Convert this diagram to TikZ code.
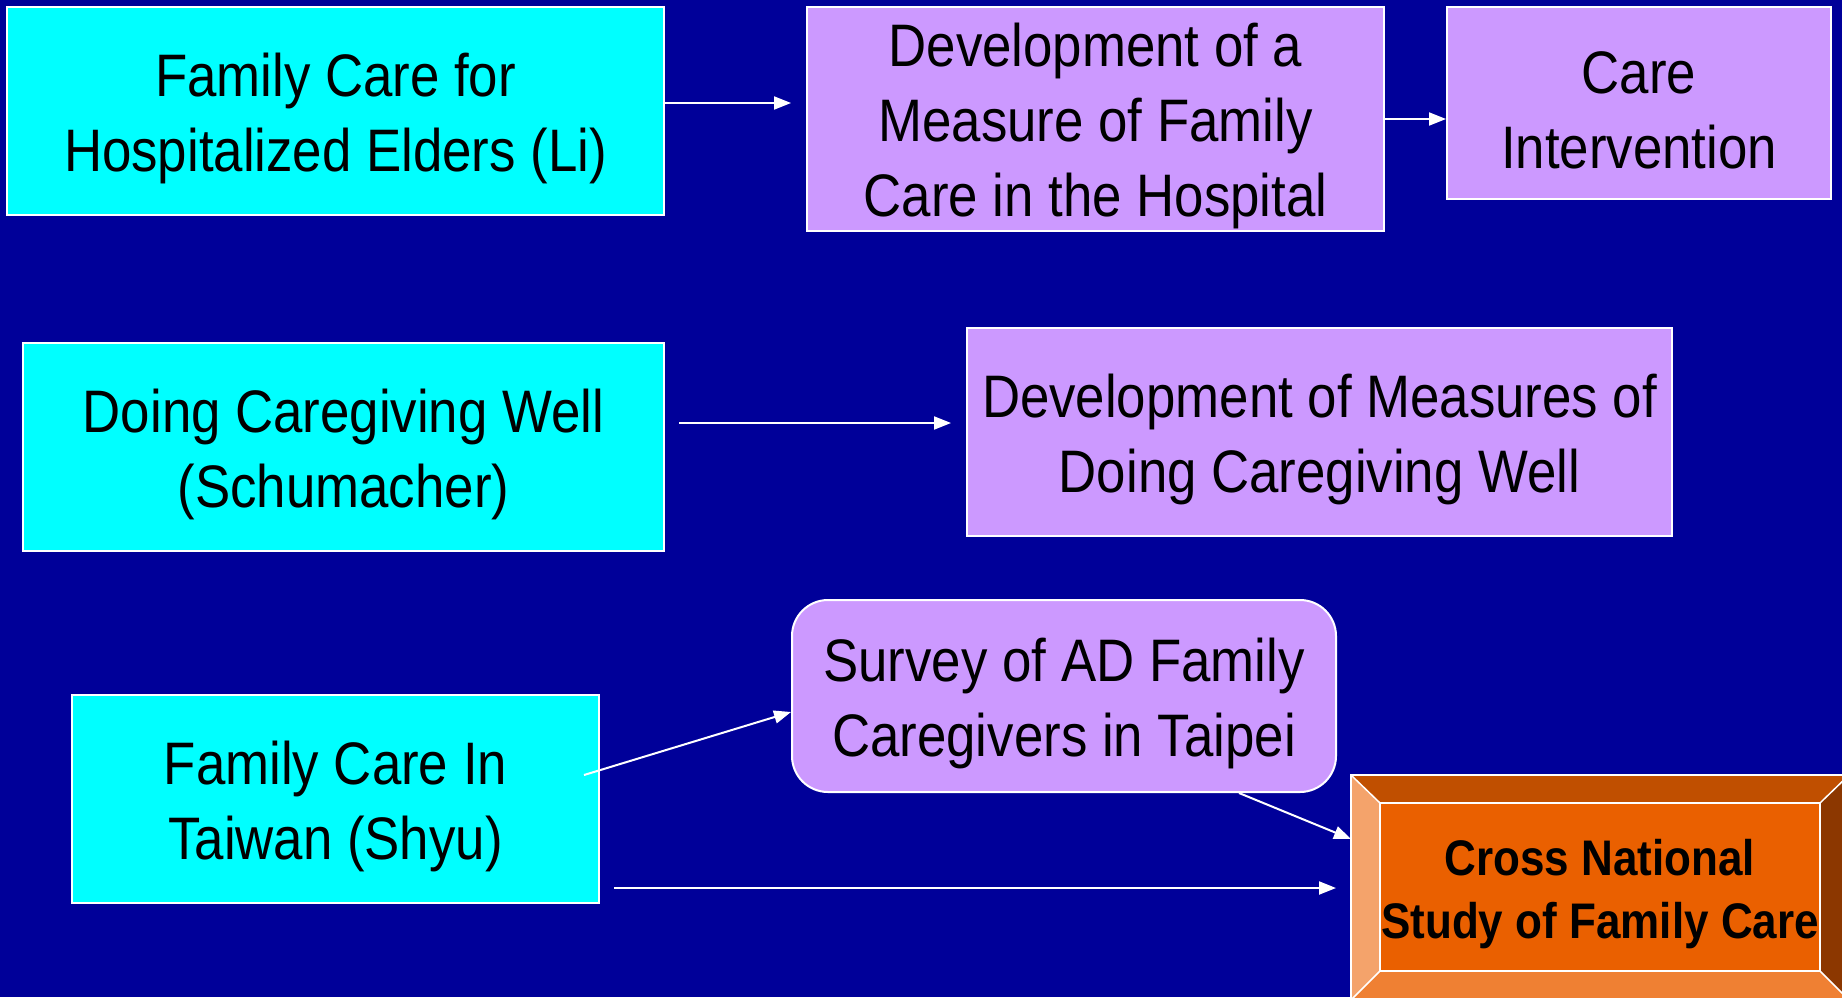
\documentclass[tikz,border=0pt]{standalone}
\usepackage{fontspec}
\setmainfont[FakeStretch=0.88]{Liberation Sans}
\usetikzlibrary{arrows.meta}
\definecolor{bg}{HTML}{000099}
\definecolor{cyanbox}{HTML}{00FFFF}
\definecolor{purplebox}{HTML}{CC99FF}
\definecolor{orin}{HTML}{EA6000}
\definecolor{ortop}{HTML}{C04F00}
\definecolor{orleft}{HTML}{F4A36B}
\definecolor{orbot}{HTML}{EF8033}
\definecolor{orright}{HTML}{8C3700}
\tikzset{
  box/.style={draw=white, line width=2pt, inner sep=0pt},
  cbox/.style={box, fill=cyanbox},
  pbox/.style={box, fill=purplebox},
  txt/.style={align=center, inner sep=0pt, font=\fontsize{60}{75}\selectfont, text=black},
  arr/.style={draw=white, line width=2pt, -{Triangle[length=17pt,width=13pt]}},
  bevel/.style={draw=white, line width=1.5pt}
}
\begin{document}
\begin{tikzpicture}[x=1pt,y=-1pt]
\useasboundingbox (0,0) rectangle (1842,997);
\fill[bg] (0,0) rectangle (1842,997);
% top row
\node[cbox, minimum width=657pt, minimum height=208pt] (b1) at (335.5,111) {};
\node[txt] (t1) at ([yshift=-7pt]b1.center) {Family Care for\\Hospitalized Elders (Li)};
\node[pbox, minimum width=577pt, minimum height=224pt] (b2) at (1095.5,119) {};
\node[txt] (t2) at ([yshift=-7pt]b2.center) {Development of a\\Measure of Family\\Care in the Hospital};
\node[pbox, minimum width=384pt, minimum height=192pt] (b3) at (1639,103) {};
\node[txt] (t3) at ([yshift=-7pt]b3.center) {Care\\Intervention};
\coordinate (e1) at (791,103);
\draw[arr] (b1.east |- e1) -- (e1);
\draw[arr] (b2.east) -- (b3.west |- b2.east);
% middle row
\node[cbox, minimum width=641pt, minimum height=208pt] (b4) at (343.5,447) {};
\node[txt] (t4) at ([yshift=-7pt]b4.center) {Doing Caregiving Well\\(Schumacher)};
\node[pbox, minimum width=705pt, minimum height=208pt] (b5) at (1319.5,432) {};
\node[txt] (t5) at ([yshift=-7pt]b5.center) {Development of Measures of\\Doing Caregiving Well};
\coordinate (s3) at (679,423);
\coordinate (e3) at (951,423);
\draw[arr] (s3) -- (e3);
% bottom row
\node[cbox, minimum width=527pt, minimum height=208pt] (b6) at (335.5,799) {};
\node[txt] (t6) at ([yshift=-7pt]b6.center) {Family Care In\\Taiwan (Shyu)};
\node[pbox, rounded corners=36pt, minimum width=544pt, minimum height=192pt] (b7) at (1064,696) {};
\node[txt] (t7) at ([yshift=-7pt]b7.center) {Survey of AD Family\\Caregivers in Taipei};
% bevel box
\begin{scope}
\clip (0,0) rectangle (1842,997);
\fill[orleft] (1351,775) -- (1380,803) -- (1380,971) -- (1351,1000) -- cycle;
\fill[ortop] (1351,775) -- (1849,775) -- (1820,803) -- (1380,803) -- cycle;
\fill[orright] (1849,775) -- (1849,1000) -- (1820,971) -- (1820,803) -- cycle;
\fill[orbot] (1351,1000) -- (1380,971) -- (1820,971) -- (1849,1000) -- cycle;
\draw[bevel] (1351,775) rectangle (1849,1000);
\draw[bevel] (1351,775) -- (1380,803) (1849,775) -- (1820,803) (1351,1000) -- (1380,971) (1849,1000) -- (1820,971);
\node[draw=white, line width=1.5pt, fill=orin, minimum width=440pt, minimum height=168pt, inner sep=0pt] (b8) at (1600,887) {};
\node[txt, font=\fontsize{50}{63}\selectfont\bfseries] (t8) at ([yshift=-7pt]b8.center) {Cross National\\Study of Family Care};
\end{scope}
\coordinate (s4) at (584,775);
\coordinate (e4) at (791,712);
\draw[arr] (s4) -- (e4);
\coordinate (s5) at (1239,793);
\coordinate (e5) at (1351,839);
\draw[arr] (s5) -- (e5);
\coordinate (s6) at (614,888);
\coordinate (e6) at (1336,888);
\draw[arr] (s6) -- (e6);
\end{tikzpicture}
\end{document}
